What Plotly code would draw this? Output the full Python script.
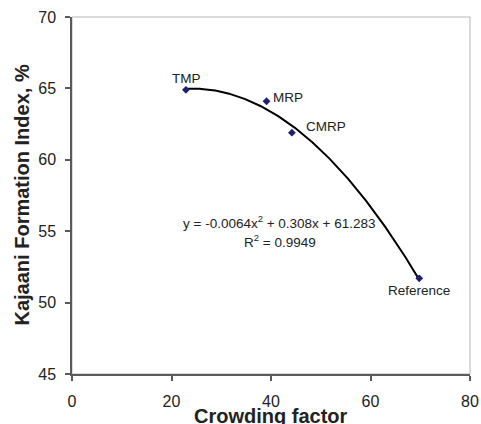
import numpy as np
import plotly.graph_objects as go

# Data
labels = ["TMP", "MRP", "CMRP", "Reference"]
crowding = [22.9, 39.1, 44.2, 69.8]
kajaani = [64.9, 64.1, 61.9, 51.7]
# Displayed polynomial trendline coefficients (a2, a1, a0)
trend_coef = [-0.0064, 0.308, 61.283]
x_ticks = [0, 20, 40, 60, 80]
y_ticks = [45, 50, 55, 60, 65, 70]

FONT = "Arial, Liberation Sans, sans-serif"
AXIS_COL = "#5a5a5a"

tx = np.linspace(min(crowding), max(crowding), 200)
ty = np.polyval(trend_coef, tx)

fig = go.Figure()
fig.add_trace(go.Scatter(x=tx, y=ty, mode="lines",
                         line=dict(color="black", width=2), hoverinfo="skip"))
fig.add_trace(go.Scatter(x=crowding, y=kajaani, mode="markers",
                         marker=dict(symbol="diamond", size=6, color="#1f1f70")))

# point labels (offsets in pixels)
offsets = {"TMP": (1, 11), "MRP": (21, 4), "CMRP": (34, 6), "Reference": (0, -12)}
for lab, xv, yv in zip(labels, crowding, kajaani):
    dx, dy = offsets[lab]
    fig.add_annotation(x=xv, y=yv, xref="x", yref="y", text=lab, showarrow=False,
                       xshift=dx, yshift=dy, font=dict(family=FONT, size=13.5, color="#222"))

eq_text = "y = -0.0064x<sup>2</sup> + 0.308x + 61.283"
r2_text = "R<sup>2</sup> = 0.9949"
fig.add_annotation(x=41.8, y=55.65, xref="x", yref="y", text=eq_text, showarrow=False,
                   font=dict(family=FONT, size=13.5, color="#222"))
fig.add_annotation(x=41.8, y=54.3, xref="x", yref="y", text=r2_text, showarrow=False,
                   font=dict(family=FONT, size=13.5, color="#222"))

# axis titles
fig.add_annotation(x=0.5, y=0, xref="paper", yref="paper", text="<b>Crowding factor</b>",
                   showarrow=False, yanchor="middle", yshift=-42,
                   font=dict(family=FONT, size=20, color="#222"))
fig.add_annotation(x=0, y=0.5, xref="paper", yref="paper", text="<b>Kajaani Formation Index, %</b>",
                   showarrow=False, xanchor="center", textangle=-90, xshift=-51,
                   font=dict(family=FONT, size=20, color="#222"))

# light frame on top/right
fig.add_shape(type="rect", xref="paper", yref="paper", x0=0, y0=0, x1=1, y1=1,
              line=dict(color="#b5b5b5", width=1), layer="below")

fig.update_layout(
    width=481, height=424,
    margin=dict(l=72, r=11, t=17, b=50, autoexpand=False),
    paper_bgcolor="white", plot_bgcolor="white",
    showlegend=False,
    font=dict(family=FONT, color="#222"),
)
fig.update_xaxes(range=[0, 80], tickvals=x_ticks, showgrid=False, zeroline=False,
                 showline=True, linecolor=AXIS_COL, linewidth=1.5, automargin=False,
                 ticks="outside", ticklen=5, tickcolor=AXIS_COL, tickwidth=1.5,
                 ticklabelstandoff=7,
                 tickfont=dict(family=FONT, size=16, color="#222"))
fig.update_yaxes(range=[45, 70], tickvals=y_ticks, showgrid=False, zeroline=False,
                 showline=True, linecolor=AXIS_COL, linewidth=1.5, automargin=False,
                 ticks="outside", ticklen=5, tickcolor=AXIS_COL, tickwidth=1.5,
                 ticklabelstandoff=6,
                 tickfont=dict(family=FONT, size=16, color="#222"))

fig.write_html("out.html", config={"displayModeBar": False},
               post_script="document.body.style.margin='0';document.body.style.overflow='hidden';")
